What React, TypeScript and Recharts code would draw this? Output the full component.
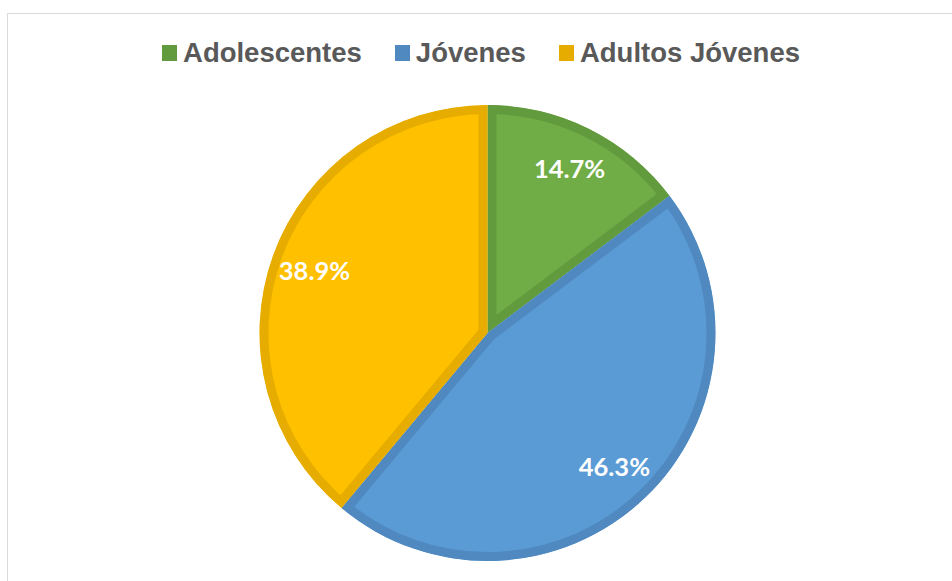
import { PieChart, Pie, Cell, Sector } from "recharts"

const groups = ["Adolescentes", "Jóvenes", "Adultos Jóvenes"]
const shares = [14.7, 46.3, 38.9]
const fills = ["#70AD47", "#5B9BD5", "#FFC000"]
const edges = ["#629A3E", "#4F89C0", "#E6AD00"]

const data = groups.map((name, i) => ({ name, value: shares[i] }))

const RAD = Math.PI / 180

// Excel draws the slice border inside the slice, so clip a double-width stroke to the slice
function InsetSlice(props: any) {
  const { cx, cy, innerRadius, outerRadius, startAngle, endAngle, fill, stroke } = props
  const id = `clip-${String(fill).replace("#", "")}`
  const geo = { cx, cy, innerRadius, outerRadius, startAngle, endAngle }
  return (
    <g>
      <defs>
        <clipPath id={id}>
          <Sector {...geo} />
        </clipPath>
      </defs>
      <Sector {...geo} fill={fill} stroke={stroke} strokeWidth={18} clipPath={`url(#${id})`} />
    </g>
  )
}

function SliceLabel({ cx, cy, midAngle, value }: any) {
  const r = 184
  const x = cx + r * Math.cos(-midAngle * RAD)
  const y = cy + r * Math.sin(-midAngle * RAD)
  return (
    <text
      x={x}
      y={y}
      fill="#ffffff"
      textAnchor="middle"
      dominantBaseline="central"
      fontFamily="Lato, 'Open Sans', sans-serif"
      fontWeight={700}
      fontSize={25.5}
    >
      {`${Number(value).toFixed(1)}%`}
    </text>
  )
}

function LegendRow() {
  return (
    <div
      style={{
        position: "absolute",
        left: 0,
        top: 36.5,
        width: 962,
        display: "flex",
        justifyContent: "center",
        alignItems: "center",
        fontFamily: "'Liberation Sans', Arial, sans-serif",
        fontWeight: 700,
        fontSize: 27.5,
        lineHeight: "32px",
        color: "#595959",
      }}
    >
      {groups.map((g, i) => (
        <div
          key={g}
          style={{ display: "flex", alignItems: "center", marginRight: i < groups.length - 1 ? 33 : 0 }}
        >
          <span style={{ width: 15, height: 16, background: edges[i], marginRight: 6, display: "inline-block" }} />
          <span>{g}</span>
        </div>
      ))}
    </div>
  )
}

export default function App() {
  return (
    <div
      style={{
        position: "absolute",
        left: 0,
        top: 0,
        width: 952,
        height: 581,
        overflow: "hidden",
        background: "#ffffff",
      }}
    >
      <div
        style={{
          position: "absolute",
          left: 7,
          top: 13,
          width: 1000,
          height: 1000,
          border: "1.5px solid #d9d9d9",
        }}
      />
      <PieChart
        width={952}
        height={581}
        margin={{ top: 0, right: 0, bottom: 0, left: 0 }}
        style={{ position: "absolute", left: 0, top: 0 }}
      >
        <Pie
          data={data}
          dataKey="value"
          nameKey="name"
          cx={487.5}
          cy={333}
          outerRadius={228}
          startAngle={90}
          endAngle={-270}
          shape={InsetSlice}
          label={SliceLabel}
          labelLine={false}
          isAnimationActive={false}
        >
          {data.map((d, i) => (
            <Cell key={d.name} fill={fills[i]} stroke={edges[i]} />
          ))}
        </Pie>
      </PieChart>
      <LegendRow />
    </div>
  )
}
